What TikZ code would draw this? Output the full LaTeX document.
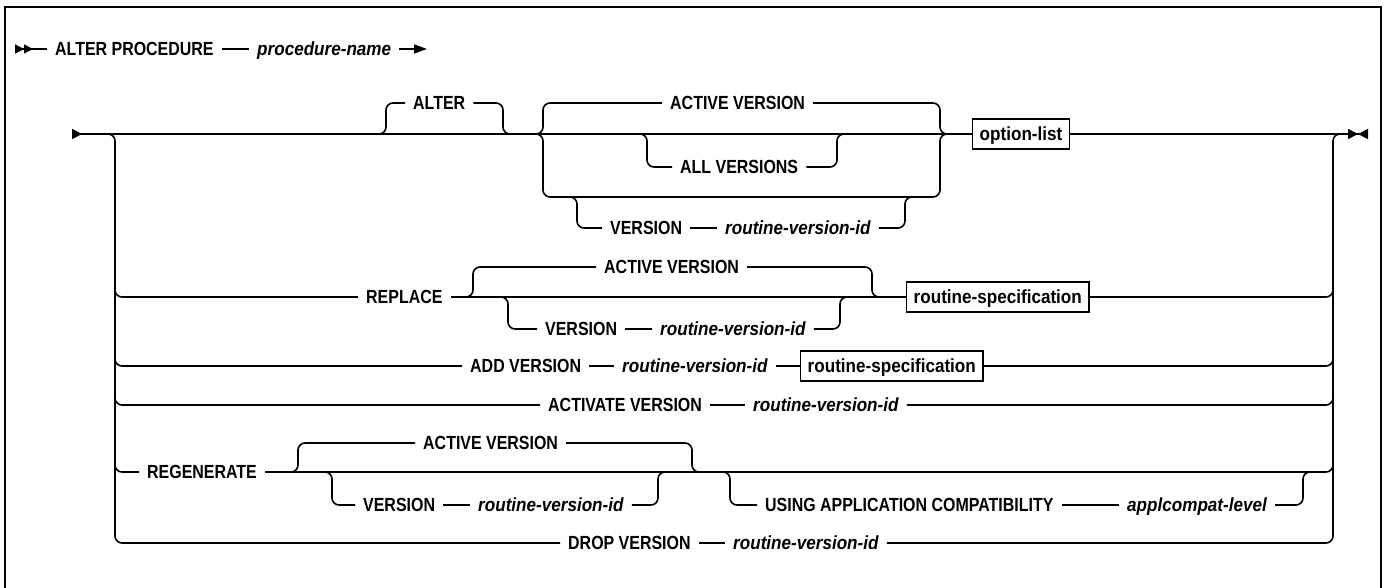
\documentclass[tikz,border=0pt]{standalone}
\usepackage{fontspec}
\setmainfont{Liberation Sans}
\newfontfamily\kwfont[FakeStretch=0.84]{Liberation Sans}
\newfontfamily\varfont[FakeStretch=0.9]{Liberation Sans}
\usetikzlibrary{arrows.meta,positioning}
\tikzset{
  rail/.style={line width=1.6pt,rounded corners=7pt},
  kw/.style={anchor=west,inner xsep=8pt,inner ysep=0pt,text height=13.5pt,text depth=0pt,
    font=\kwfont\bfseries\fontsize{19pt}{21pt}\selectfont},
  var/.style={kw,font=\varfont\bfseries\itshape\fontsize{19pt}{21pt}\selectfont},
  refbox/.style={draw,line width=1.4pt,anchor=west,inner xsep=7pt,minimum height=30pt,
    text height=13.5pt,text depth=0pt,font=\varfont\bfseries\fontsize{19pt}{21pt}\selectfont},
}
\begin{document}
\begin{tikzpicture}[x=1pt,y=-1pt]
  \useasboundingbox (0,0) rectangle (1387,588);
  \draw[line width=2.6pt] (5,588) -- (5,7) -- (1381,7) -- (1381,588);

  \node[kw] (apr) at (47,49) {ALTER PROCEDURE};
  \node[var] (pname) at (249,49) {procedure-name};
  \coordinate (hstart) at (15,49);
  \coordinate (hend) at (427,49);
  \draw[rail,{Triangle[reversed,length=9pt,width=9pt] Triangle[reversed,length=9pt,width=9pt]}-] (hstart) -- (apr.west);
  \draw[rail] (apr.east) -- (pname.west);
  \draw[rail,-{Triangle[length=13pt,width=9pt]}] (pname.east) -- (hend);

  \node[kw] (alter) at (405,103) {ALTER};
  \node[kw] (act1) at (662,103) {ACTIVE VERSION};
  \node[kw] (allv) at (672,167) {ALL VERSIONS};
  \node[kw] (ver1) at (602,228) {VERSION};
  \node[var] (rvid1) at (717,228) {routine-version-id};
  \node[refbox] (optl) at (972,134) {option-list};

  \node[kw] (rep) at (358,297) {REPLACE};
  \node[kw] (act2) at (596,267) {ACTIVE VERSION};
  \node[kw] (ver2) at (537,329) {VERSION};
  \node[var] (rvid2) at (652,329) {routine-version-id};
  \node[refbox] (rspec1) at (906,297) {routine-specification};

  \node[kw] (addv) at (462,366) {ADD VERSION};
  \node[var] (rvid3) at (614,366) {routine-version-id};
  \node[refbox] (rspec2) at (800,366) {routine-specification};

  \node[kw] (actv) at (540,405) {ACTIVATE VERSION};
  \node[var] (actid) at (745,405) {routine-version-id};

  \node[kw] (regen) at (139,472) {REGENERATE};
  \node[kw] (act3) at (415,443) {ACTIVE VERSION};
  \node[kw] (ver3) at (355,505) {VERSION};
  \node[var] (rvid4) at (470,505) {routine-version-id};
  \node[kw] (using) at (757,505) {USING APPLICATION COMPATIBILITY};
  \node[var] (appl) at (1119,505) {applcompat-level};

  \node[kw] (drop) at (560,543) {DROP VERSION};
  \node[var] (dropid) at (725,543) {routine-version-id};

  \coordinate (mstart) at (72,134);
  \coordinate (mend) at (1368,134);
  \draw[rail,{Triangle[reversed,length=10pt,width=10pt]}-] (mstart) -- (optl.west);
  \draw[rail,-{Triangle[length=10pt,width=10pt] Triangle[reversed,length=10pt,width=10pt]}] (optl.east) -- (mend);
  \draw[rail] (100,134) -- (115,134) -- (115,543) -- (drop.west);
  \draw[rail] (dropid.east) -- (1333,543) -- (1333,134) -- (1348,134);
  \draw[rail] (drop.east) -- (dropid.west);

  \draw[rail] (370,134) -- (386,134) -- (386,103) -- (alter.west);
  \draw[rail] (alter.east) -- (503,103) -- (503,134) -- (518,134);
  \draw[rail] (528,134) -- (543,134) -- (543,103) -- (act1.west);
  \draw[rail] (act1.east) -- (940,103) -- (940,134) -- (955,134);
  \draw[rail] (528,134) -- (543,134) -- (543,197) -- (940,197) -- (940,134) -- (955,134);
  \draw[rail] (632,134) -- (647,134) -- (647,167) -- (allv.west);
  \draw[rail] (allv.east) -- (837,167) -- (837,134) -- (852,134);
  \draw[rail] (562,197) -- (577,197) -- (577,228) -- (ver1.west);
  \draw[rail] (ver1.east) -- (rvid1.west);
  \draw[rail] (rvid1.east) -- (905,228) -- (905,197) -- (920,197);

  \draw[rail] (115,280) -- (115,297) -- (rep.west);
  \draw[rail] (rep.east) -- (rspec1.west);
  \draw[rail] (rspec1.east) -- (1333,297) -- (1333,280);
  \draw[rail] (458,297) -- (473,297) -- (473,267) -- (act2.west);
  \draw[rail] (act2.east) -- (872,267) -- (872,297) -- (887,297);
  \draw[rail] (493,297) -- (508,297) -- (508,329) -- (ver2.west);
  \draw[rail] (ver2.east) -- (rvid2.west);
  \draw[rail] (rvid2.east) -- (840,329) -- (840,297) -- (855,297);

  \draw[rail] (115,350) -- (115,366) -- (addv.west);
  \draw[rail] (addv.east) -- (rvid3.west);
  \draw[rail] (rvid3.east) -- (rspec2.west);
  \draw[rail] (rspec2.east) -- (1333,366) -- (1333,350);

  \draw[rail] (115,390) -- (115,405) -- (actv.west);
  \draw[rail] (actv.east) -- (actid.west);
  \draw[rail] (actid.east) -- (1333,405) -- (1333,390);

  \draw[rail] (115,455) -- (115,472) -- (regen.west);
  \draw[rail] (regen.east) -- (1333,472) -- (1333,455);
  \draw[rail] (283,472) -- (298,472) -- (298,443) -- (act3.west);
  \draw[rail] (act3.east) -- (692,443) -- (692,472) -- (707,472);
  \draw[rail] (317,472) -- (332,472) -- (332,505) -- (ver3.west);
  \draw[rail] (ver3.east) -- (rvid4.west);
  \draw[rail] (rvid4.east) -- (658,505) -- (658,472) -- (673,472);
  \draw[rail] (715,472) -- (730,472) -- (730,505) -- (using.west);
  \draw[rail] (using.east) -- (appl.west);
  \draw[rail] (appl.east) -- (1303,505) -- (1303,472) -- (1318,472);
\end{tikzpicture}
\end{document}
